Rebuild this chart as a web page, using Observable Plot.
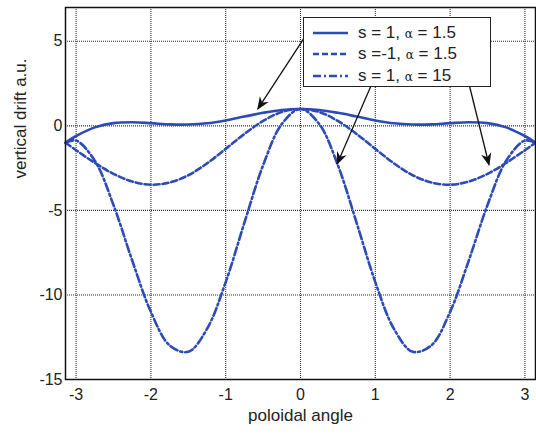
<!DOCTYPE html>
<html>
<head>
<meta charset="utf-8">
<script src="https://cdn.jsdelivr.net/npm/d3@7"></script>
<script src="https://cdn.jsdelivr.net/npm/@observablehq/plot@0.6"></script>
<style>
  html, body { margin: 0; padding: 0; background: #fff; }
  #wrap { position: relative; width: 536px; height: 435px; font-family: "Liberation Sans", Arial, sans-serif; }
  #legend { position: absolute; left: 303px; top: 17px; width: 188px; height: 70px; background: #fff; border: 1.2px solid #222; box-sizing: border-box; }
  #legend .row { position: absolute; left: 0; height: 20px; display: flex; align-items: center; }
  #legend svg { margin-left: 9px; }
  #legend span { margin-left: 10px; font-size: 17px; color: #222; white-space: nowrap; }
  #legend .a { font-family: "DejaVu Serif", serif; font-size: 12px; }
</style>
</head>
<body>
<div id="wrap"></div>
<script>
// poloidal angle samples
const theta = [-3.14, -3.0, -2.75, -2.5, -2.25, -2.0, -1.75, -1.5, -1.25, -1.0, -0.75, -0.5, -0.25, 0,
               0.25, 0.5, 0.75, 1.0, 1.25, 1.5, 1.75, 2.0, 2.25, 2.5, 2.75, 3.0, 3.14];
// s = 1, alpha = 1.5
const driftA = [-0.99, -0.60, -0.09, 0.16, 0.21, 0.16, 0.09, 0.08, 0.15, 0.32, 0.55, 0.77, 0.94, 1.0,
                0.94, 0.77, 0.55, 0.32, 0.15, 0.08, 0.09, 0.16, 0.21, 0.16, -0.09, -0.60, -0.99];
// s = -1, alpha = 1.5
const driftB = [-1.0, -1.44, -2.19, -2.84, -3.29, -3.48, -3.35, -2.92, -2.22, -1.36, -0.48, 0.29, 0.82, 1.0,
                0.82, 0.29, -0.48, -1.36, -2.22, -2.92, -3.35, -3.48, -3.29, -2.84, -2.19, -1.44, -1.0];
// s = 1, alpha = 15
const driftC = [-1.0, -0.87, -2.06, -4.68, -7.96, -11.0, -12.98, -13.36, -12.01, -9.24, -5.73, -2.33, 0.11, 1.0,
                0.11, -2.33, -5.73, -9.24, -12.01, -13.36, -12.98, -11.0, -7.96, -4.68, -2.06, -0.87, -1.0];

const seriesNames = ["s = 1, α = 1.5", "s =-1, α = 1.5", "s = 1, α = 15"];
const dashes = [null, "6,3", "8,3,2,3"];
const xTicks = [-3, -2, -1, 0, 1, 2, 3];
const yTicks = [-15, -10, -5, 0, 5];

// annotation arrows (data coordinates): from legend to curves
const arrowX1 = [0.05, 0.95, 2.19];
const arrowY1 = [5.2, 2.45, 3.6];
const arrowX2 = [-0.57, 0.49, 2.52];
const arrowY2 = [1.0, -2.25, -2.3];

const blue = "#2d4bb5";

const series = [driftA, driftB, driftC];
const rows = [];
series.forEach((vals, k) => theta.forEach((t, i) => rows.push({theta: t, v: vals[i], k})));
const arrows = arrowX1.map((x, i) => ({x1: x, y1: arrowY1[i], x2: arrowX2[i], y2: arrowY2[i]}));

const fmt = d => String(d);

const chart = Plot.plot({
  width: 536,
  height: 435,
  marginLeft: 65,
  marginRight: 1,
  marginTop: 7,
  marginBottom: 56,
  style: {fontFamily: "Liberation Sans, Arial, sans-serif", fontSize: "16px", color: "#222", background: "#fff"},
  x: {domain: [-Math.PI, Math.PI]},
  y: {domain: [-15, 7]},
  marks: [
    Plot.gridX(xTicks, {stroke: "#222", strokeOpacity: 0.95, strokeDasharray: "1,1", strokeWidth: 1.1}),
    Plot.gridY(yTicks, {stroke: "#222", strokeOpacity: 0.95, strokeDasharray: "1,1", strokeWidth: 1.1}),
    ...[0, 1, 2].map(k => Plot.line(rows.filter(d => d.k === k), {
      x: "theta", y: "v", stroke: blue, strokeWidth: 2.6, curve: "catmull-rom",
      strokeDasharray: dashes[k]
    })),
    Plot.link(arrows, {x1: "x1", y1: "y1", x2: "x2", y2: "y2", stroke: "#111", strokeWidth: 1.3, className: "anno"}),
    Plot.axisX(xTicks, {tickSize: 0, tickPadding: 9, label: null, fontSize: 16, fill: "#222", tickFormat: fmt}),
    Plot.axisY(yTicks, {tickSize: 0, tickPadding: 3, label: null, fontSize: 16, fill: "#222", tickFormat: fmt}),
    Plot.frame({stroke: "#111", strokeWidth: 1.5}),
    Plot.text(["poloidal angle"], {frameAnchor: "bottom", dy: 41, fontSize: 17, fill: "#222"}),
    Plot.text(["vertical drift a.u."], {frameAnchor: "left", dx: -45, dy: -15, rotate: -90, fontSize: 17, fill: "#222"})
  ]
});

// filled arrowheads for the annotation links
const ns = "http://www.w3.org/2000/svg";
const defs = document.createElementNS(ns, "defs");
const marker = document.createElementNS(ns, "marker");
marker.setAttribute("id", "ahead");
marker.setAttribute("viewBox", "0 0 10 10");
marker.setAttribute("refX", "9");
marker.setAttribute("refY", "5");
marker.setAttribute("markerUnits", "userSpaceOnUse");
marker.setAttribute("markerWidth", "13");
marker.setAttribute("markerHeight", "13");
marker.setAttribute("orient", "auto");
const tri = document.createElementNS(ns, "path");
tri.setAttribute("d", "M0,1 L10,5 L0,9 L3,5 Z");
tri.setAttribute("fill", "#111");
marker.appendChild(tri);
defs.appendChild(marker);
chart.insertBefore(defs, chart.firstChild);
chart.querySelectorAll(".anno path, .anno line").forEach(p => p.setAttribute("marker-end", "url(#ahead)"));

const wrap = document.getElementById("wrap");
wrap.appendChild(chart);

const legend = document.createElement("div");
legend.id = "legend";
const tops = [5, 26, 48];
seriesNames.forEach((name, k) => {
  const row = document.createElement("div");
  row.className = "row";
  row.style.top = tops[k] + "px";
  const parts = name.split("α");
  row.innerHTML = `<svg width="35" height="6"><line x1="0" y1="3" x2="35" y2="3" stroke="${blue}" stroke-width="2.6" ${dashes[k] ? `stroke-dasharray="${dashes[k]}"` : ""}/></svg><span>${parts[0]}<span class="a" style="margin-left:0">α</span>${parts[1]}</span>`;
  legend.appendChild(row);
});
wrap.appendChild(legend);
</script>
</body>
</html>
